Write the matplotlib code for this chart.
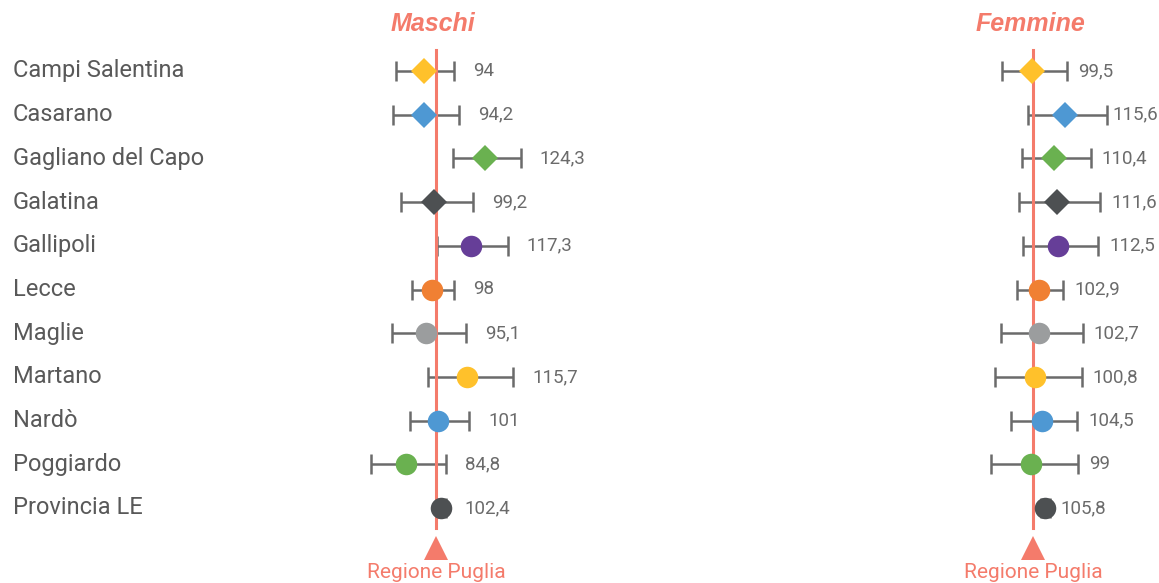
import matplotlib.pyplot as plt

comuni = ["Campi Salentina", "Casarano", "Gagliano del Capo", "Galatina",
          "Gallipoli", "Lecce", "Maglie", "Martano", "Nardò", "Poggiardo",
          "Provincia LE"]
colori = ["#FFC12B", "#4E98D3", "#6AB150", "#4D5052", "#663E98", "#F08033",
          "#9B9D9E", "#FFC12B", "#4E98D3", "#6AB150", "#4D5052"]
marker = ["D", "D", "D", "D", "o", "o", "o", "o", "o", "o", "o"]

# rapporti standardizzati (Regione Puglia = 100) e intervalli di confidenza
maschi = [94, 94.2, 124.3, 99.2, 117.3, 98, 95.1, 115.7, 101, 84.8, 102.4]
maschi_inf = [80, 78.7, 108.3, 82.3, 100.7, 87.8, 78.2, 96.2, 87, 67.3, 100.3]
maschi_sup = [109, 111.7, 142.3, 118.7, 135.8, 109.2, 115, 138.7, 116.5, 105, 104.8]

femmine = [99.5, 115.6, 110.4, 111.6, 112.5, 102.9, 102.7, 100.8, 104.5, 99, 105.8]
femmine_inf = [84.2, 97.2, 94.2, 92.8, 94.7, 91.7, 83.7, 80.8, 88.8, 78.8, 103.6]
femmine_sup = [116.7, 136.7, 128.7, 133.4, 132.5, 115, 124.7, 124.2, 122, 122.5, 108.2]

RIF = 100
SALMONE = "#F47B6B"
GRIGIO = "#6B6B6B"
W, H = 1159, 583

fig = plt.figure(figsize=(W / 100, H / 100), dpi=100)


def fmt(v):
    s = ("%.1f" % v).rstrip("0").rstrip(".")
    return s.replace(".", ",")


def pannello(x_rif_px, titolo, val, inf, sup, scarto):
    # 2 px per unità, righe ogni 43.7 px a partire da y=71
    left_px, right_px = x_rif_px - 110, min(x_rif_px + 150, W)
    top_px, bot_px = 30, H
    ax = fig.add_axes([left_px / W, 1 - bot_px / H,
                       (right_px - left_px) / W, (bot_px - top_px) / H])
    ax.set_xlim(RIF + (left_px - x_rif_px) / 2, RIF + (right_px - x_rif_px) / 2)
    ax.set_ylim((bot_px - 71) / 43.7, (top_px - 71) / 43.7)
    ax.axis("off")
    # etichette non oltre il bordo della figura
    x_max = RIF + (W - 47 - x_rif_px) / 2
    for i in range(len(val)):
        ax.errorbar(val[i], i, xerr=[[val[i] - inf[i]], [sup[i] - val[i]]],
                    fmt="none", ecolor=GRIGIO, elinewidth=1.8, capsize=7,
                    capthick=1.8, zorder=1)
        ms = 13 if marker[i] == "D" else 15.5
        ax.plot(val[i], i, marker=marker[i], color=colori[i], ms=ms,
                markeredgewidth=0, linestyle="none", zorder=3)
        ax.text(min(sup[i] + scarto, x_max), i, fmt(val[i]), va="center",
                ha="left", fontsize=13.5, color=GRIGIO, family="Roboto",
                clip_on=False)
    n = len(val)
    ax.plot([RIF, RIF], [-0.48, n - 0.54], color=SALMONE, lw=2.2, zorder=2)
    ax.plot(RIF, n - 0.08, marker="^", color=SALMONE, ms=17,
            markeredgewidth=0, clip_on=False)
    ax.text(RIF, n + 0.47, "Regione Puglia", ha="center", va="center",
            fontsize=15, color=SALMONE, family="Roboto", clip_on=False)
    fig.text((x_rif_px - 3) / W, 1 - 24 / H, titolo, ha="center", va="center",
             fontsize=18, fontweight="bold", fontstyle="italic",
             color=SALMONE, family="Liberation Sans")
    return ax


pannello(436, "Maschi", maschi, maschi_inf, maschi_sup, 9.5)
pannello(1033.3, "Femmine", femmine, femmine_inf, femmine_sup, 5.5)

for i, c in enumerate(comuni):
    fig.text(13 / W, 1 - (71 + i * 43.7) / H, c, ha="left", va="center",
             fontsize=17, color="#595959", family="Roboto")

fig.savefig("out.png", dpi=100, facecolor="white")
